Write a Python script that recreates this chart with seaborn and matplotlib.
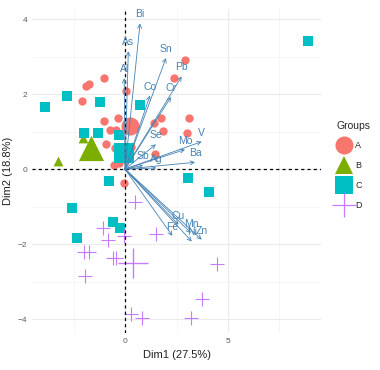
import matplotlib
matplotlib.use("Agg")
import matplotlib.pyplot as plt
from matplotlib.lines import Line2D
import seaborn as sns
import pandas as pd

# individuals, by group (Dim1, Dim2)
a_x = [2.91, 2.38, -1.02, -1.73, -1.91, 0.03, -2.10, -1.02, -0.33, -0.72, -0.45, 1.40,
       1.75, 1.83, 3.09, 2.99, -0.92, -0.49, 1.46, -0.55, -0.30, 0.28, -0.06]
a_y = [2.92, 2.43, 2.43, 2.27, 2.22, 2.08, 1.81, 1.27, 1.37, 1.04, 1.04, 1.23,
       1.36, 1.01, 1.36, 0.97, 0.66, 0.57, 0.41, 0.10, 0.16, 0.59, -0.36]
b_x = [-3.24, -2.02]
b_y = [0.22, 0.84]
c_x = [8.88, -2.80, -3.88, -1.21, 0.73, -1.99, -1.33, -0.28, -0.76, 3.04, 4.06,
       -2.56, -0.60, -0.24, -2.32]
c_y = [3.42, 1.96, 1.65, 1.79, 1.71, 0.97, 0.97, 0.92, -0.33, -0.25, -0.62,
       -1.03, -1.42, -1.56, -1.85]
d_x = [0.50, -1.08, -0.81, -0.03, 1.49, -1.97, -1.73, -0.60, -0.44, -1.94, 0.29,
       0.84, 3.19, 3.72, 4.45]
d_y = [-0.88, -1.58, -1.90, -1.78, -1.72, -2.22, -2.22, -2.36, -2.36, -2.86, -3.87,
       -3.96, -3.98, -3.46, -2.53]

groups = ["A", "B", "C", "D"]
centroid_x = [0.24, -1.67, -0.03, 0.40]
centroid_y = [1.15, 0.55, 0.42, -2.51]

# variables (arrow tips)
var_names = ["Bi", "As", "Al", "Sn", "Pb", "Co", "Cr", "Se", "Mo", "V", "Ba",
             "Sb", "Ag", "Cu", "Fe", "Mn", "Ni", "Zn"]
var_x = [0.73, 0.16, -0.04, 1.99, 2.75, 1.21, 2.23, 1.50, 2.91, 3.72, 3.40,
         0.88, 1.52, 2.60, 2.30, 3.20, 3.24, 3.72]
var_y = [3.88, 3.14, 2.42, 2.96, 2.47, 1.96, 1.92, 0.66, 0.52, 0.73, 0.18,
         0.10, 0.03, -1.48, -1.78, -1.70, -1.93, -1.88]

ind = pd.DataFrame({
    "Dim1": a_x + b_x + c_x + d_x,
    "Dim2": a_y + b_y + c_y + d_y,
    "Groups": ["A"] * len(a_x) + ["B"] * len(b_x) + ["C"] * len(c_x) + ["D"] * len(d_x),
})
cen = pd.DataFrame({"Dim1": centroid_x, "Dim2": centroid_y, "Groups": groups})

colors = {"A": "#F8766D", "B": "#7CAE00", "C": "#00BFC4", "D": "#C77CFF"}
markers = {"A": "o", "B": "^", "C": "s", "D": "+"}
small = {"A": 36, "B": 50, "C": 50, "D": 110}
big = {"A": 170, "B": 330, "C": 200, "D": 480}

sns.set_theme(style="whitegrid")
plt.rcParams["font.family"] = ["Liberation Sans", "DejaVu Sans"]

fig = plt.figure(figsize=(3.8, 3.7), dpi=100)
ax = fig.add_axes([0.084, 0.10, 0.761, 0.876])

for g in groups:
    sub = ind[ind["Groups"] == g]
    kw = dict(linewidth=0.8) if g == "D" else dict(linewidth=0)
    sns.scatterplot(data=sub, x="Dim1", y="Dim2", color=colors[g], marker=markers[g],
                    s=small[g], ax=ax, legend=False, zorder=3, **kw)
for g in groups:
    sub = cen[cen["Groups"] == g]
    kw = dict(linewidth=1.0) if g == "D" else dict(linewidth=0)
    sns.scatterplot(data=sub, x="Dim1", y="Dim2", color=colors[g], marker=markers[g],
                    s=big[g], ax=ax, legend=False, zorder=4, **kw)

ax.axhline(0, color="black", ls=(0, (2.5, 2.5)), lw=0.9, zorder=5)
ax.axvline(0, color="black", ls=(0, (2.5, 2.5)), lw=0.9, zorder=5)

for name, x, y in zip(var_names, var_x, var_y):
    ax.annotate("", xy=(x, y), xytext=(0, 0),
                arrowprops=dict(arrowstyle="->", color="steelblue", lw=0.6,
                                mutation_scale=7, shrinkA=0, shrinkB=0), zorder=6)
    ax.annotate(name, xy=(x, y), xytext=(0, 6.5), textcoords="offset points",
                ha="center", va="center", fontsize=7.5, color="steelblue", zorder=7)

ax.set_xlim(-4.52, 9.52)
ax.set_ylim(-4.37, 4.27)
ax.set_xticks([0, 5])
ax.set_xticks([-2.5, 2.5, 7.5], minor=True)
ax.set_yticks([-4, -2, 0, 2, 4])
ax.set_yticks([-3, -1, 1, 3], minor=True)
ax.grid(which="major", color="#ebebeb", lw=0.8)
ax.grid(which="minor", color="#f3f3f3", lw=0.5)
for sp in ax.spines.values():
    sp.set_visible(False)
ax.tick_params(which="major", length=2, width=0.6, color="#555555",
               labelsize=6, labelcolor="#5a5a5a", pad=1.5)
ax.tick_params(which="minor", length=0)
ax.set_xlabel("Dim1 (27.5%)", fontsize=8, color="#222222", labelpad=4)
ax.set_ylabel("Dim2 (18.8%)", fontsize=8, color="#222222", labelpad=3)

handles = []
for g in groups:
    handles.append(Line2D([], [], ls="none", marker=markers[g], color=colors[g],
                          markersize=13 if g != "D" else 17,
                          markeredgewidth=0 if g != "D" else 0.9))
leg = fig.legend(handles, groups, title="Groups", loc="upper left",
                 bbox_to_anchor=(0.876, 0.684), frameon=False, fontsize=6.5,
                 title_fontsize=7.5, handletextpad=0.5, labelspacing=1.2,
                 borderaxespad=0, handlelength=1.6)
leg._legend_box.align = "left"

fig.savefig("out.png", dpi=100)
